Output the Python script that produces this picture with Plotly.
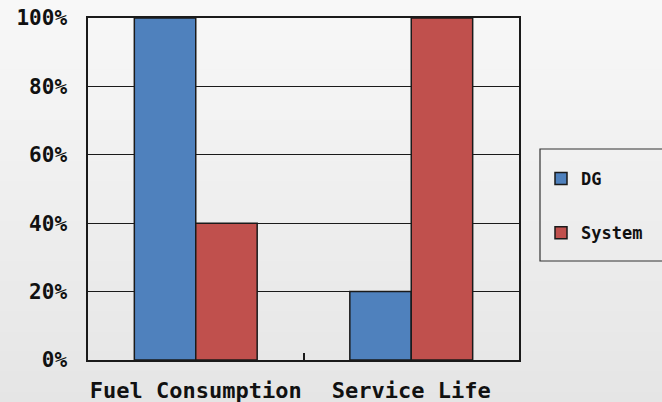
import plotly.graph_objects as go

categories = ["Fuel Consumption", "Service Life"]
dg_values = [100, 20]
system_values = [40, 100]
y_ticks = [0, 20, 40, 60, 80, 100]
y_tick_labels = ["0%", "20%", "40%", "60%", "80%", "100%"]

W, H = 662, 402
L, R, T, B = 88, 143, 18, 42
pw, ph = W - L - R, H - T - B

def px_x(px):
    return (px - L) / pw

def px_y(py):
    return (H - B - py) / ph

fig = go.Figure()
fig.add_trace(go.Bar(name="DG", x=categories, y=dg_values, legendgroup="a",
                     marker=dict(color="#4f81bd", line=dict(color="#1a1a1a", width=1.5))))
fig.add_trace(go.Bar(name="System", x=categories, y=system_values, legendgroup="b",
                     marker=dict(color="#c0504d", line=dict(color="#1a1a1a", width=1.5))))

# background vertical gradient
shapes = []
n = 40
for i in range(n):
    y0 = i * H / n
    y1 = (i + 1) * H / n
    c = round(248 - (248 - 229) * (i + 0.5) / n)
    shapes.append(dict(type="rect", xref="paper", yref="paper", layer="below",
                       x0=px_x(-20), x1=px_x(W + 20),
                       y0=px_y(y1 + 0.5 + (20 if i == n - 1 else 0)),
                       y1=px_y(y0 - 0.5 - (20 if i == 0 else 0)),
                       line=dict(width=0), fillcolor=f"rgb({c},{c},{c})"))
# legend box
shapes.append(dict(type="rect", xref="paper", yref="paper", layer="above",
                   x0=px_x(540), x1=px_x(W + 5), y0=px_y(261), y1=px_y(149),
                   line=dict(color="#333333", width=1.2), fillcolor="rgba(0,0,0,0)"))

mono = "DejaVu Sans Mono"
fig.update_layout(
    width=W, height=H,
    margin=dict(l=L, r=R, t=T, b=B, pad=0, autoexpand=False),
    paper_bgcolor="#ececec",
    plot_bgcolor="rgba(0,0,0,0)",
    barmode="group",
    bargap=0.43,
    bargroupgap=0,
    shapes=shapes,
    font=dict(family=mono, color="#111111"),
    showlegend=True,
    legend=dict(x=px_x(541), y=px_y(161), xanchor="left", yanchor="top",
                bgcolor="rgba(0,0,0,0)", borderwidth=0,
                font=dict(size=17, family=mono, weight="bold"),
                tracegroupgap=29, traceorder="grouped"),
    xaxis=dict(showline=True, linecolor="#1a1a1a", linewidth=1.5, mirror=True,
               ticks="inside", tickson="boundaries", ticklen=7, tickcolor="#1a1a1a",
               tickwidth=1.5, showgrid=False, tickangle=0, automargin=False,
               tickfont=dict(size=22, family=mono, weight="bold"),
               ticklabelstandoff=10),
    yaxis=dict(range=[0, 100], tickvals=y_ticks, ticktext=y_tick_labels,
               showline=True, linecolor="#1a1a1a", linewidth=1.5, mirror=True,
               showgrid=True, gridcolor="#1a1a1a", gridwidth=1,
               ticks="", zeroline=False, automargin=False,
               tickfont=dict(size=21, family=mono, weight="bold"),
               ticklabelstandoff=15),
)

fig.write_html("out.html")
